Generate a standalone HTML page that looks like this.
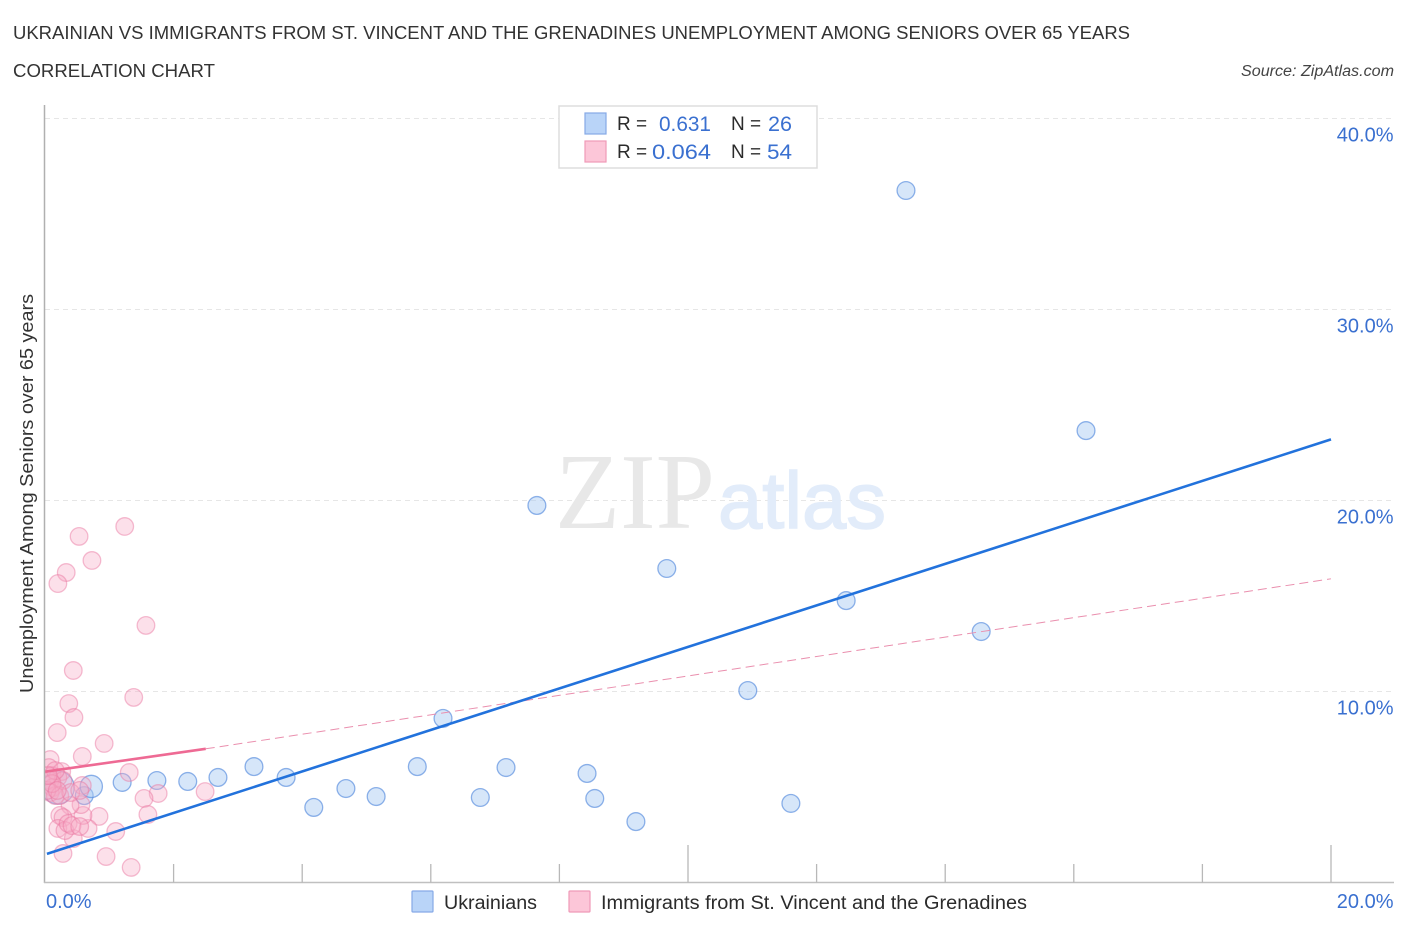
<!DOCTYPE html>
<html lang="en">
<head>
<meta charset="utf-8">
<title>Ukrainian vs Immigrants from St. Vincent and the Grenadines Unemployment Among Seniors over 65 Years</title>
<style>
  html, body { margin: 0; padding: 0; background: #ffffff; }
  svg { display: block; }
  text { font-family: "Liberation Sans", sans-serif; }
</style>
</head>
<body>
<svg id="chart" xmlns="http://www.w3.org/2000/svg" width="1406" height="930" viewBox="0 0 1406 930">
  <defs>
    <clipPath id="plot-clip"><rect x="45" y="100" width="1350" height="783"></rect></clipPath>
  </defs>

  <text x="13" y="39" font-size="18.5" fill="#333333" textLength="1117" lengthAdjust="spacingAndGlyphs">UKRAINIAN VS IMMIGRANTS FROM ST. VINCENT AND THE GRENADINES UNEMPLOYMENT AMONG SENIORS OVER 65 YEARS</text>
  <text x="13" y="77" font-size="18.5" fill="#333333" textLength="202" lengthAdjust="spacingAndGlyphs">CORRELATION CHART</text>
  <text x="1241" y="76" font-size="15.5" font-style="italic" fill="#444444" textLength="153" lengthAdjust="spacingAndGlyphs">Source: ZipAtlas.com</text>

  <g id="grid"></g>

  <g>
    <text x="555" y="528" style="font-family:'Liberation Serif',serif" font-size="108" fill="#e8e8e8" textLength="160" lengthAdjust="spacingAndGlyphs">ZIP</text>
    <text x="718" y="528" style="font-family:'Liberation Sans',sans-serif" font-size="80" fill="#e2ecfa" stroke="#e2ecfa" stroke-width="1.5" textLength="168" lengthAdjust="spacingAndGlyphs">atlas</text>
  </g>

  <g id="blue-points" clip-path="url(#plot-clip)"></g>
  <g id="pink-points" clip-path="url(#plot-clip)"></g>
  <g id="trend-lines"></g>

  <g id="axes"></g>
  <g id="tick-labels"></g>

  <text transform="translate(33,693) rotate(-90)" font-size="18.5" fill="#333333" textLength="399" lengthAdjust="spacingAndGlyphs">Unemployment Among Seniors over 65 years</text>

  <g>
    <rect x="559" y="106" width="258" height="62" fill="#ffffff" stroke="#dddddd" stroke-width="1.5"></rect>
    <rect x="585" y="113" width="21" height="21" fill="#b9d4f8" stroke="#86a9e6" stroke-width="1.2"></rect>
    <rect x="585" y="141" width="21" height="21" fill="#fcc6d8" stroke="#ef9ab8" stroke-width="1.2"></rect>
    <text x="617" y="130" font-size="19" fill="#2b2b2b">R =</text>
    <text x="659" y="131" font-size="21" fill="#3a70d0" textLength="52" lengthAdjust="spacingAndGlyphs">0.631</text>
    <text x="731" y="130" font-size="19" fill="#2b2b2b">N =</text>
    <text x="768" y="131" font-size="21" fill="#3a70d0" textLength="24" lengthAdjust="spacingAndGlyphs">26</text>
    <text x="617" y="158" font-size="19" fill="#2b2b2b">R =</text>
    <text x="652" y="159" font-size="21" fill="#3a70d0" textLength="59" lengthAdjust="spacingAndGlyphs">0.064</text>
    <text x="731" y="158" font-size="19" fill="#2b2b2b">N =</text>
    <text x="767" y="159" font-size="21" fill="#3a70d0" textLength="25" lengthAdjust="spacingAndGlyphs">54</text>
  </g>

  <g>
    <rect x="412" y="891" width="21" height="21" rx="1" fill="#b9d4f8" stroke="#86a9e6" stroke-width="1.2"></rect>
    <text x="444" y="909" font-size="19" fill="#2b2b2b" textLength="93" lengthAdjust="spacingAndGlyphs">Ukrainians</text>
    <rect x="569" y="891" width="21" height="21" rx="1" fill="#fcc6d8" stroke="#ef9ab8" stroke-width="1.2"></rect>
    <text x="601" y="909" font-size="19" fill="#2b2b2b" textLength="426" lengthAdjust="spacingAndGlyphs">Immigrants from St. Vincent and the Grenadines</text>
  </g>
</svg>

<script>
// Chart values (percent units)
const xTickValues = [0, 2, 4, 6, 8, 10, 12, 14, 16, 18, 20];
const xTickLabels = ['0.0%', '20.0%'];
const xLabelValues = [0, 20];
const yTickValues = [10, 20, 30, 40];
const yTickLabels = ['10.0%', '20.0%', '30.0%', '40.0%'];

const blueX = [13.39, 16.19, 7.65, 9.67, 12.46, 14.56, 10.93, 6.19, 5.79, 7.17, 8.43, 3.25, 3.75, 2.69, 2.22, 1.74, 1.20, 0.61, 0.72, 0.20, 4.68, 5.15, 4.18, 6.77, 8.55, 11.60, 9.19];
const blueY = [36.23, 23.66, 19.74, 16.44, 14.76, 13.14, 10.05, 8.59, 6.07, 6.02, 5.71, 6.07, 5.50, 5.50, 5.29, 5.34, 5.24, 4.55, 5.03, 4.97, 4.92, 4.50, 3.93, 4.45, 4.40, 4.14, 3.19];
const blueWeight = [1, 1, 1, 1, 1, 1, 1, 1, 1, 1, 1, 1, 1, 1, 1, 1, 1, 1, 1.25, 1.85, 1, 1, 1, 1, 1, 1, 1];

const pinkX = [1.24, 0.53, 0.73, 0.33, 0.20, 1.57, 0.44, 1.38, 0.37, 0.45, 0.19, 0.92, 0.58, 0.08, 1.31, 1.76, 1.54, 2.49, 1.60, 0.84, 1.10, 0.95, 1.34, 0.28, 0.44, 0.67, 0.59, 0.56, 0.39, 0.58, 0.23, 0.28, 0.20, 0.31, 0.36, 0.42, 0.54, 0.06, 0.11, 0.26, 0.20, 0.08, 0.12, 0.08, 0.16, 0.03, 0.28, 0.23, 0.40, 0.54, 0.16, 0.11, 0.19, 0.05];
const pinkY = [18.64, 18.12, 16.86, 16.23, 15.65, 13.46, 11.10, 9.69, 9.37, 8.64, 7.85, 7.28, 6.60, 6.44, 5.76, 4.66, 4.40, 4.76, 3.56, 3.46, 2.67, 1.36, 0.79, 1.52, 2.30, 2.83, 3.51, 4.08, 4.03, 5.08, 3.51, 3.40, 2.83, 2.72, 3.09, 2.98, 2.93, 6.02, 5.60, 5.81, 5.50, 5.34, 4.97, 4.71, 4.55, 4.82, 5.34, 4.55, 4.71, 4.82, 5.86, 5.18, 4.82, 5.60];

const blueLineX = [0.03, 20];
const blueLineY = [1.5, 23.2];
const pinkSolidX = [0, 2.5];
const pinkSolidY = [5.8, 7.0];
const pinkDashX = [2.5, 20];
const pinkDashY = [7.0, 15.9];

// Axis functions
const xScale = function (v) { return 45 + v * 64.3; };
const yScale = function (v) { return 882.5 - v * 19.1; };
const SVGNS = 'http://www.w3.org/2000/svg';

function make(parent, tag, attrs) {
  const el = document.createElementNS(SVGNS, tag);
  Object.keys(attrs).forEach(function (k) { el.setAttribute(k, attrs[k]); });
  parent.appendChild(el);
  return el;
}

const grid = document.getElementById('grid');
yTickValues.forEach(function (v) {
  const line = make(grid, 'line', { x1: 45, x2: 1394, y1: yScale(v), y2: yScale(v), stroke: '#e6e6e6', 'stroke-width': 1, 'stroke-dasharray': '5 4' });
  
  
});

const axes = document.getElementById('axes');
const yAxis = make(axes, 'line', { x1: 44.5, x2: 44.5, y1: 105, y2: 883, stroke: '#b0b0b0', 'stroke-width': 1.5 });


const xAxis = make(axes, 'line', { x1: 44, x2: 1394, y1: 882.5, y2: 882.5, stroke: '#c0c0c0', 'stroke-width': 1.5 });


xTickValues.forEach(function (v, i) {
  if (i === 0) return;
  const tall = i % 5 === 0;
  const tick = make(axes, 'line', { x1: xScale(v), x2: xScale(v), y1: tall ? 845 : 864, y2: 882.5, stroke: '#b8b8b8', 'stroke-width': 1.3 });
  
  
});

const labels = document.getElementById('tick-labels');
yTickValues.forEach(function (v, i) {
  const t = make(labels, 'text', { x: 1393.5, y: yScale(v) + 23, 'text-anchor': 'end', 'font-size': 20, fill: '#3a70d0' });
  t.textContent = yTickLabels[i];
  
  
});
xLabelValues.forEach(function (v, i) {
  const t = make(labels, 'text', { x: i === 0 ? 46 : 1393.5, y: 908, 'text-anchor': i === 0 ? 'start' : 'end', 'font-size': 20, fill: '#3a70d0' });
  t.textContent = xTickLabels[i];
  
  
});

const blueGroup = document.getElementById('blue-points');
blueX.forEach(function (v, i) {
  const c = make(blueGroup, 'circle', { cx: xScale(v), cy: yScale(blueY[i]), r: 8.9 * blueWeight[i], fill: 'rgba(170,203,243,0.48)', stroke: 'rgba(76,132,220,0.62)', 'stroke-width': 1.3 });
  
  
});

const pinkGroup = document.getElementById('pink-points');
pinkX.forEach(function (v, i) {
  const c = make(pinkGroup, 'circle', { cx: xScale(v), cy: yScale(pinkY[i]), r: 8.8, fill: 'rgba(247,170,197,0.36)', stroke: 'rgba(234,120,160,0.48)', 'stroke-width': 1.3 });
  
  
});

const trend = document.getElementById('trend-lines');
const dashLine = make(trend, 'line', { x1: xScale(pinkDashX[0]), y1: yScale(pinkDashY[0]), x2: xScale(pinkDashX[1]), y2: yScale(pinkDashY[1]), stroke: '#ea8fae', 'stroke-width': 1, 'stroke-dasharray': '9 5' });


const pinkLine = make(trend, 'line', { x1: xScale(pinkSolidX[0]), y1: yScale(pinkSolidY[0]), x2: xScale(pinkSolidX[1]), y2: yScale(pinkSolidY[1]), stroke: '#ee6a94', 'stroke-width': 2.6 });


const blueLine = make(trend, 'line', { x1: xScale(blueLineX[0]), y1: yScale(blueLineY[0]), x2: xScale(blueLineX[1]), y2: yScale(blueLineY[1]), stroke: '#2272dc', 'stroke-width': 2.6 });


</script>
</body>
</html>
